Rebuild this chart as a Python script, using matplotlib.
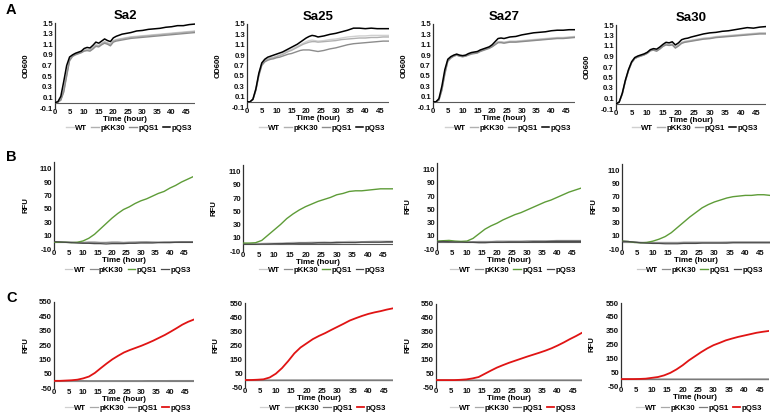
import matplotlib
matplotlib.use("Agg")
import matplotlib.pyplot as plt

plt.rcParams['font.family'] = ['Liberation Sans', 'DejaVu Sans']
plt.rcParams['font.weight'] = 'bold'

# ---------------- data ----------------
strains = ["Sa2", "Sa25", "Sa27", "Sa30"]
series_names = ["WT", "pKK30", "pQS1", "pQS3"]

tA = list(range(0, 25)) + list(range(26, 49, 2))
tBC = list(range(0, 49, 2))

# Row A : OD600
sa2_A_WT = [0.00,0.01,0.06,0.25,0.55,0.82,0.89,0.92,0.94,0.96,0.99,1.00,1.00,1.04,1.09,1.08,1.12,1.15,1.13,1.10,1.17,1.19,1.20,1.21,1.22,1.24,1.25,1.26,1.27,1.28,1.29,1.30,1.31,1.32,1.33,1.34,1.35]
sa2_A_pKK30 = [0.00,0.01,0.05,0.22,0.52,0.80,0.88,0.91,0.93,0.95,0.98,0.99,0.99,1.03,1.08,1.07,1.11,1.14,1.12,1.09,1.16,1.18,1.19,1.20,1.21,1.23,1.24,1.25,1.26,1.27,1.28,1.29,1.30,1.31,1.32,1.33,1.34]
sa2_A_pQS1 = [0.00,0.01,0.05,0.20,0.50,0.79,0.87,0.90,0.92,0.94,0.97,0.98,0.97,1.01,1.06,1.05,1.09,1.12,1.10,1.07,1.14,1.16,1.17,1.18,1.19,1.21,1.22,1.23,1.24,1.25,1.26,1.27,1.28,1.29,1.30,1.31,1.32]
sa2_A_pQS3 = [0.00,0.02,0.12,0.40,0.70,0.86,0.90,0.93,0.95,0.97,1.02,1.04,1.03,1.08,1.14,1.12,1.16,1.20,1.17,1.15,1.22,1.25,1.27,1.29,1.30,1.32,1.35,1.36,1.38,1.39,1.40,1.42,1.43,1.45,1.45,1.47,1.48]

sa25_A_WT = [0.00,0.00,0.05,0.24,0.53,0.73,0.80,0.83,0.85,0.86,0.88,0.90,0.93,0.96,0.99,1.01,1.04,1.07,1.10,1.13,1.16,1.18,1.19,1.18,1.17,1.18,1.20,1.21,1.23,1.25,1.26,1.27,1.27,1.28,1.28,1.28,1.28]
sa25_A_pKK30 = [0.00,0.00,0.05,0.23,0.52,0.72,0.79,0.82,0.84,0.85,0.87,0.89,0.91,0.94,0.97,0.99,1.02,1.05,1.08,1.11,1.13,1.15,1.16,1.16,1.15,1.16,1.17,1.18,1.20,1.21,1.22,1.23,1.23,1.24,1.24,1.25,1.25]
sa25_A_pQS1 = [0.00,0.00,0.04,0.22,0.50,0.70,0.77,0.80,0.82,0.83,0.85,0.86,0.88,0.90,0.92,0.93,0.95,0.97,0.99,1.00,1.00,1.00,0.99,0.98,0.97,0.99,1.02,1.04,1.07,1.10,1.12,1.13,1.14,1.15,1.16,1.17,1.17]
sa25_A_pQS3 = [0.00,0.00,0.05,0.25,0.55,0.75,0.82,0.86,0.88,0.90,0.92,0.94,0.96,0.99,1.02,1.05,1.08,1.11,1.15,1.19,1.23,1.26,1.28,1.27,1.25,1.27,1.30,1.32,1.35,1.38,1.42,1.42,1.41,1.42,1.41,1.41,1.41]

sa27_A_WT = [0.00,0.00,0.04,0.25,0.57,0.80,0.86,0.89,0.91,0.89,0.88,0.89,0.92,0.94,0.95,0.96,0.99,1.01,1.03,1.05,1.08,1.12,1.16,1.16,1.15,1.17,1.17,1.18,1.19,1.20,1.21,1.22,1.23,1.24,1.24,1.25,1.26]
sa27_A_pKK30 = [0.00,0.00,0.04,0.24,0.55,0.79,0.85,0.88,0.90,0.88,0.87,0.88,0.91,0.93,0.94,0.95,0.98,1.00,1.02,1.04,1.07,1.11,1.15,1.15,1.14,1.16,1.16,1.17,1.18,1.19,1.20,1.21,1.22,1.23,1.23,1.24,1.25]
sa27_A_pQS1 = [0.00,0.00,0.03,0.22,0.53,0.78,0.84,0.88,0.90,0.88,0.87,0.88,0.90,0.92,0.93,0.94,0.97,0.99,1.01,1.03,1.06,1.10,1.14,1.14,1.13,1.15,1.15,1.16,1.17,1.18,1.19,1.20,1.21,1.22,1.22,1.23,1.24]
sa27_A_pQS3 = [0.00,0.00,0.06,0.30,0.62,0.82,0.87,0.90,0.92,0.90,0.89,0.90,0.93,0.95,0.96,0.97,1.00,1.02,1.04,1.06,1.10,1.16,1.22,1.23,1.22,1.25,1.26,1.29,1.31,1.33,1.34,1.35,1.37,1.38,1.38,1.39,1.39]

sa30_A_WT = [0.00,0.03,0.19,0.44,0.64,0.79,0.87,0.90,0.92,0.94,0.97,1.02,1.04,1.02,1.06,1.11,1.14,1.13,1.14,1.08,1.12,1.17,1.19,1.20,1.21,1.23,1.25,1.26,1.28,1.29,1.30,1.31,1.32,1.33,1.34,1.35,1.35]
sa30_A_pKK30 = [0.00,0.03,0.18,0.43,0.63,0.78,0.86,0.89,0.91,0.93,0.96,1.01,1.03,1.01,1.05,1.10,1.13,1.12,1.13,1.07,1.11,1.16,1.18,1.19,1.20,1.22,1.24,1.25,1.27,1.28,1.29,1.30,1.31,1.32,1.33,1.34,1.34]
sa30_A_pQS1 = [0.00,0.03,0.18,0.43,0.63,0.78,0.86,0.89,0.91,0.93,0.96,1.01,1.02,1.00,1.04,1.09,1.12,1.11,1.12,1.06,1.10,1.15,1.17,1.18,1.19,1.21,1.23,1.24,1.26,1.27,1.28,1.29,1.30,1.31,1.32,1.33,1.33]
sa30_A_pQS3 = [0.00,0.03,0.20,0.45,0.65,0.80,0.88,0.91,0.93,0.95,0.98,1.03,1.05,1.04,1.08,1.13,1.17,1.16,1.18,1.12,1.16,1.22,1.24,1.25,1.27,1.30,1.33,1.35,1.36,1.38,1.39,1.41,1.43,1.45,1.44,1.46,1.47]

# Row B : RFU (GFP)
sa2_B_WT = [0,0,0.5,0.5,0,0,0.5,0.5,0,0,0.5,0.5,0,0,0.5,0.5,1,1,0.5,0.5,1,1,1,1,1]
sa2_B_pKK30 = [0.5,0.5,0,0,-0.5,-0.5,0,0,-0.5,-0.5,0,0,-0.5,0,0,0.5,0.5,0,0,0.5,0.5,0.5,1,1,1]
sa2_B_pQS1 = [0,0,0,-0.5,0,2,6,12,20,28,36,43,49,53,58,62,65,69,73,76,81,85,90,94,98]
sa2_B_pQS3 = [1,0.5,0,-0.5,-1,-1.5,-1.5,-2,-2,-2.5,-2,-2,-2,-1.5,-1.5,-1,-1,-1,-0.5,-0.5,-0.5,0,0,0,0]

sa25_B_WT = [1,1,1.5,1.5,2,2,2.5,2.5,3,3,3,3.5,3.5,4,3.5,4,4,4.5,4.5,4,4.5,5,5,5,5]
sa25_B_pKK30 = [0.5,0.5,0,0,0.5,0.5,1,1,1,1.5,1.5,1.5,2,2,2,2,2.5,2.5,2.5,3,3,3,3,3,3]
sa25_B_pQS1 = [2,2,2.5,6,14,22,30,39,46,52,57,61,65,68,71,75,77,80,81,81,82,83,84,84,84]
sa25_B_pQS3 = [0,0,0,0.5,0.5,1,1,1.5,1.5,2,2,2,2.5,2.5,2.5,3,3,3,3,3.5,3.5,3.5,3.5,4,4]

sa27_B_WT = [1.5,1.5,1.5,1,1,1,1,1.5,1.5,1.5,2,2,2,2,2,2,2.5,2.5,2.5,2.5,3,3,3,3,3]
sa27_B_pKK30 = [1,1,1,0.5,0.5,0.5,1,1,1,1,1.5,1.5,1.5,1.5,1.5,2,2,2,2,2,2.5,2.5,2.5,2.5,2.5]
sa27_B_pQS1 = [2,2.5,3,2,1.5,2,6,13,20,25,29,34,38,42,45,49,53,57,61,64,68,72,76,79,82]
sa27_B_pQS3 = [1,1.5,1,0.5,0.5,0,0,-0.5,-0.5,0,0,0,0.5,0.5,0.5,0.5,1,1,1,1.5,1.5,1.5,1.5,1.5,1.5]

sa30_B_WT = [1,1,0.5,0,0,0,0,0,0,0,0.5,0.5,0.5,0.5,0.5,0.5,0.5,1,1,1,1,1,1,1,1]
sa30_B_pKK30 = [1.5,1,0.5,0,-0.5,-0.5,-0.5,-0.5,-0.5,-0.5,0,0,0,0,0,0,0,0,0.5,0.5,0.5,0.5,0.5,0.5,0.5]
sa30_B_pQS1 = [2,1.5,0,-0.5,0,2,5,9,15,23,31,39,46,53,58,62,65,68,70,71,72,72,73,73,72]
sa30_B_pQS3 = [2,1.5,0.5,-0.5,-1,-1.5,-1.5,-2,-2,-2,-1.5,-1.5,-1.5,-1,-1,-1,-1,-1,-0.5,-0.5,-0.5,-0.5,-0.5,-0.5,-0.5]

# Row C : RFU (mCherry)
sa2_C_WT = [0,0,0,0,0,0,0,0,0,0,0,0,1,1,1,1,1,1,1,1,2,2,2,2,2]
sa2_C_pKK30 = [0,0,0,0,0,0,0,0,0,0,0,0,0,0,0,0,1,1,1,1,1,1,1,1,1]
sa2_C_pQS1 = [0,0,0,0,0,0,-1,-1,-1,-1,-1,-1,-1,-1,-1,-1,0,0,0,0,0,0,0,0,0]
sa2_C_pQS3 = [0,0,2,4,8,17,30,55,88,120,150,175,198,215,230,245,262,280,300,320,343,367,392,412,428]

sa25_C_WT = [0,0,0,0,0,0,0,0,1,1,1,1,1,1,1,2,2,2,2,2,2,2,2,2,2]
sa25_C_pKK30 = [0,0,0,0,0,0,0,0,0,0,0,1,1,1,1,1,1,1,1,1,1,1,1,1,1]
sa25_C_pQS1 = [0,0,0,0,0,0,0,0,0,0,0,0,0,0,0,0,0,0,0,0,0,0,0,0,0]
sa25_C_pQS3 = [0,0,2,5,18,45,85,135,190,232,262,292,315,335,358,380,402,425,442,458,472,483,492,503,512]

sa27_C_WT = [0,0,0,0,0,0,0,0,0,0,1,1,1,1,1,1,1,1,2,2,2,2,2,2,2]
sa27_C_pKK30 = [0,0,0,0,0,0,0,0,0,0,0,0,0,0,1,1,1,1,1,1,1,1,1,1,1]
sa27_C_pQS1 = [0,0,0,0,0,0,0,0,0,0,0,0,0,0,0,0,0,0,0,0,0,0,0,0,0]
sa27_C_pQS3 = [0,0,0,0,2,5,12,22,45,68,90,108,125,140,155,170,184,198,213,230,250,272,296,318,342]

sa30_C_WT = [0,0,0,0,0,0,0,0,0,0,0,0,0,1,1,1,1,1,1,1,1,1,1,1,1]
sa30_C_pKK30 = [0,0,0,0,0,0,0,0,0,0,0,0,0,0,0,0,0,0,0,0,1,1,1,1,1]
sa30_C_pQS1 = [0,0,0,0,0,0,0,0,0,0,0,0,0,0,0,0,0,0,0,0,0,0,0,0,0]
sa30_C_pQS3 = [0,0,0,1,3,9,15,27,45,70,100,135,165,195,222,245,262,280,293,305,315,325,335,342,348]

rowA = [[sa2_A_WT, sa2_A_pKK30, sa2_A_pQS1, sa2_A_pQS3],
        [sa25_A_WT, sa25_A_pKK30, sa25_A_pQS1, sa25_A_pQS3],
        [sa27_A_WT, sa27_A_pKK30, sa27_A_pQS1, sa27_A_pQS3],
        [sa30_A_WT, sa30_A_pKK30, sa30_A_pQS1, sa30_A_pQS3]]
rowB = [[sa2_B_WT, sa2_B_pKK30, sa2_B_pQS1, sa2_B_pQS3],
        [sa25_B_WT, sa25_B_pKK30, sa25_B_pQS1, sa25_B_pQS3],
        [sa27_B_WT, sa27_B_pKK30, sa27_B_pQS1, sa27_B_pQS3],
        [sa30_B_WT, sa30_B_pKK30, sa30_B_pQS1, sa30_B_pQS3]]
rowC = [[sa2_C_WT, sa2_C_pKK30, sa2_C_pQS1, sa2_C_pQS3],
        [sa25_C_WT, sa25_C_pKK30, sa25_C_pQS1, sa25_C_pQS3],
        [sa27_C_WT, sa27_C_pKK30, sa27_C_pQS1, sa27_C_pQS3],
        [sa30_C_WT, sa30_C_pKK30, sa30_C_pQS1, sa30_C_pQS3]]

x_ticks = [0, 5, 10, 15, 20, 25, 30, 35, 40, 45]
yticks_A = [-0.1, 0.1, 0.3, 0.5, 0.7, 0.9, 1.1, 1.3, 1.5]
yticks_B = [-10, 10, 30, 50, 70, 90, 110]
yticks_C = [-50, 50, 150, 250, 350, 450, 550]

# ---------------- layout / style ----------------
W, H = 772, 415
fig = plt.figure(figsize=(W / 100, H / 100), dpi=100)

colors_A = ['#d0d0d0', '#b0b0b0', '#8c8c8c', '#000000']
colors_B = ['#c8c8c8', '#8c8c8c', '#5e9c38', '#4a4a4a']
colors_C = ['#d0d0d0', '#a8a8a8', '#7a7a7a', '#e01414']

# pixel boxes: (x0, width, ytop, ybottom)
pos_A = [(55, 140, 23, 108), (247, 142, 24, 107), (433, 142, 24, 107), (616, 150, 25, 109)]
pos_B = [(54, 139, 162, 249), (243, 150, 165, 251), (437, 144, 163, 249), (622, 148, 164, 249)]
pos_C = [(54, 140, 302, 388), (245, 148, 303, 387), (436, 146, 304, 387), (621, 148, 303, 386)]

rows = [
    dict(data=rowA, t=tA, pos=pos_A, colors=colors_A, ylim=(-0.1, 1.5), yticks=yticks_A,
         ylabel='OD600', legend_y=128, lw=[1.0, 1.0, 1.0, 1.1], fmt='{:.1f}'),
    dict(data=rowB, t=tBC, pos=pos_B, colors=colors_B, ylim=(-10, 120), yticks=yticks_B,
         ylabel='RFU', legend_y=270, lw=[0.9, 0.9, 1.0, 0.9], fmt='{:d}'),
    dict(data=rowC, t=tBC, pos=pos_C, colors=colors_C, ylim=(-50, 550), yticks=yticks_C,
         ylabel='RFU', legend_y=408, lw=[0.9, 0.9, 0.9, 1.3], fmt='{:d}'),
]

for r, row in enumerate(rows):
    for c in range(4):
        x0, w, yt, yb = row['pos'][c]
        ax = fig.add_axes([x0 / W, 1 - yb / H, w / W, (yb - yt) / H])
        ax.axhline(0, color='#5a5a5a', lw=0.8, zorder=1)
        handles = []
        for s in range(4):
            h, = ax.plot(row['t'], row['data'][c][s], color=row['colors'][s],
                         lw=row['lw'][s], zorder=2 + s, label=series_names[s])
            handles.append(h)
        ax.set_xlim(0, 48)
        ax.set_ylim(*row['ylim'])
        ax.set_xticks(x_ticks)
        ax.set_xticklabels([str(v) for v in x_ticks])
        ax.set_yticks(row['yticks'])
        if row['fmt'] == '{:d}':
            ax.set_yticklabels([str(int(v)) for v in row['yticks']])
        else:
            ax.set_yticklabels(['{:.1f}'.format(v) for v in row['yticks']])
        for sp in ['top', 'right', 'bottom']:
            ax.spines[sp].set_visible(False)
        ax.spines['left'].set_color('#303030')
        ax.spines['left'].set_linewidth(0.9)
        ax.tick_params(axis='both', length=0, labelsize=5.6, pad=1.5, colors='#111111')
        ax.tick_params(axis='x', pad=0.5)
        ax.set_facecolor('none')
        ax.set_xlabel('Time (hour)', fontsize=5.8, fontweight='bold', labelpad=0.5)
        ax.set_ylabel(row['ylabel'], fontsize=5.6, fontweight='bold')
        ax.yaxis.set_label_coords(-25 / w, 0.5)
        if r == 0:
            ax.set_title(strains[c], fontsize=9.5, fontweight='bold', pad=3)
        cx = (x0 + w / 2 + 4) / W
        fig.legend(handles=handles, labels=series_names, loc='center',
                   bbox_to_anchor=(cx, 1 - row['legend_y'] / H), ncol=4, frameon=False,
                   prop={'size': 5.6, 'weight': 'bold'}, handlelength=1.0,
                   handletextpad=0.15, columnspacing=0.55, borderpad=0)

fig.text(6 / W, 1 - 10 / H, 'A', fontsize=10.5, fontweight='bold', va='center')
fig.text(6 / W, 1 - 157 / H, 'B', fontsize=10.5, fontweight='bold', va='center')
fig.text(6 / W, 1 - 298 / H, 'C', fontsize=10.5, fontweight='bold', va='center')

fig.savefig('out.png', dpi=100)
